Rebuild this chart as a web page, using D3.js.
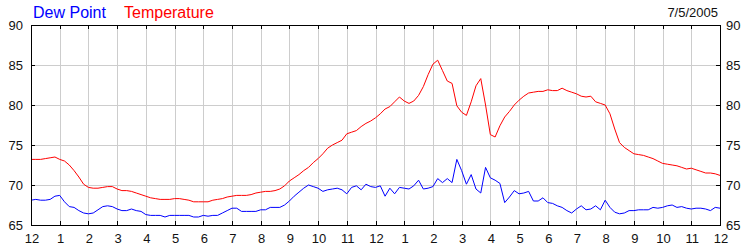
<!DOCTYPE html>
<html>
<head>
<meta charset="utf-8">
<script src="https://cdn.jsdelivr.net/npm/d3@7"></script>
<style>
  body { margin: 0; background: #fff; }
  svg { display: block; font-family: Arial, "Liberation Sans", sans-serif; }
  .grid line { stroke: #cdcdcd; stroke-width: 1; shape-rendering: crispEdges; }
  .tick-mark { stroke: #000; stroke-width: 1; shape-rendering: crispEdges; }
  .lbl { font-size: 13px; fill: #111; }
</style>
</head>
<body>
<script>
// Readings every 10 minutes, midnight to midnight (7/5/2005)
const minutes = d3.range(0, 1441, 10);

// Temperature (F), one row per hour after the first reading
const temperature = [73.2,
  73.2, 73.2, 73.3, 73.4, 73.5, 73.2,
  73.0, 72.5, 71.8, 71.0, 70.1, 69.7,
  69.6, 69.6, 69.7, 69.8, 69.8, 69.5,
  69.3, 69.3, 69.2, 69.0, 68.8, 68.6,
  68.4, 68.3, 68.2, 68.2, 68.2, 68.3,
  68.3, 68.2, 68.1, 67.9, 67.9, 67.9,
  67.9, 68.1, 68.2, 68.3, 68.5, 68.6,
  68.7, 68.7, 68.7, 68.8, 69.0, 69.1,
  69.2, 69.2, 69.3, 69.5, 69.9, 70.5,
  70.9, 71.3, 71.8, 72.2, 72.8, 73.3,
  73.9, 74.6, 75.0, 75.3, 75.6, 76.4,
  76.6, 76.8, 77.3, 77.7, 78.0, 78.4,
  78.9, 79.5, 79.8, 80.4, 81.0, 80.5,
  80.2, 80.5, 81.2, 82.3, 83.8, 85.1,
  85.6, 84.3, 83.0, 82.7, 79.9, 79.1,
  78.7, 80.4, 82.4, 83.3, 80.0, 76.3,
  76.0, 77.4, 78.5, 79.2, 80.0, 80.6,
  81.1, 81.5, 81.6, 81.7, 81.7, 81.9,
  81.8, 81.8, 82.1, 81.8, 81.6, 81.4,
  81.1, 81.0, 81.1, 80.4, 80.2, 80.0,
  78.9, 77.0, 75.3, 74.7, 74.3, 73.9,
  73.8, 73.7, 73.5, 73.3, 73.0, 72.7,
  72.6, 72.5, 72.4, 72.2, 72.0, 72.1,
  71.9, 71.7, 71.5, 71.5, 71.4, 71.2];

// Dew point (F)
const dewPoint = [68.1,
  68.2, 68.1, 68.1, 68.2, 68.6, 68.7,
  67.9, 67.3, 67.2, 66.8, 66.5, 66.4,
  66.5, 66.9, 67.3, 67.4, 67.3, 67.0,
  66.8, 66.8, 67.0, 66.8, 66.7, 66.3,
  66.2, 66.2, 66.2, 66.0, 66.2, 66.2,
  66.2, 66.2, 66.2, 66.0, 66.0, 66.2,
  66.1, 66.2, 66.2, 66.5, 66.8, 67.1,
  67.1, 66.7, 66.7, 66.7, 66.7, 66.9,
  66.9, 67.2, 67.2, 67.2, 67.5, 68.0,
  68.6, 69.1, 69.6, 70.0, 69.8, 69.6,
  69.2, 69.4, 69.5, 69.6, 69.4, 68.9,
  69.7, 69.9, 69.4, 70.1, 69.8, 69.7,
  69.9, 68.6, 69.6, 68.9, 69.7, 69.6,
  69.5, 69.9, 70.6, 69.5, 69.6, 69.8,
  70.8, 70.3, 70.8, 70.3, 73.2, 71.8,
  70.1, 71.3, 69.5, 69.0, 72.2, 70.9,
  70.6, 70.2, 67.8, 68.5, 69.3, 68.9,
  69.0, 69.2, 68.0, 68.0, 68.4, 67.8,
  67.7, 67.4, 67.2, 66.8, 66.5, 67.0,
  67.4, 66.9, 67.0, 67.4, 66.9, 68.1,
  67.2, 66.6, 66.4, 66.5, 66.8, 66.8,
  66.9, 66.9, 66.9, 67.2, 67.1, 67.2,
  67.4, 67.5, 67.2, 67.3, 67.1, 67.0,
  67.1, 67.1, 67.0, 66.8, 67.2, 67.1];

const hourLabels = ["12","1","2","3","4","5","6","7","8","9","10","11",
                    "12","1","2","3","4","5","6","7","8","9","10","11","12"];
const yTicks = [65, 70, 75, 80, 85, 90];
const dateLabel = "7/5/2005";

// Size of the chart
const width = 750, height = 250;
const plot = {left: 31, right: 720, top: 25, bottom: 225};

const svg = d3.select("body").append("svg")
    .attr("width", width)
    .attr("height", height);

const x = d3.scaleLinear().domain([0, 1440]).range([plot.left, plot.right]);
const y = d3.scaleLinear().domain([65, 90]).range([plot.bottom, plot.top]);

const hourTicks = hourLabels.map((d, i) => i * 60);
const px = v => Math.round(v) + 0.5;

// grid lines
const grid = svg.append("g").attr("class", "grid");
grid.selectAll("line.v")
  .data(hourTicks.slice(1, -1))
  .enter().append("line")
  .attr("x1", d => px(x(d))).attr("x2", d => px(x(d)))
  .attr("y1", plot.top).attr("y2", plot.bottom);
grid.selectAll("line.h")
  .data(yTicks.slice(1, -1))
  .enter().append("line")
  .attr("x1", plot.left).attr("x2", plot.right)
  .attr("y1", d => px(y(d))).attr("y2", d => px(y(d)));

// the two series
const line = d3.line()
    .x((d, i) => x(minutes[i]))
    .y(d => y(d));

svg.append("path")
  .datum(dewPoint)
  .attr("fill", "none")
  .attr("stroke", "#0000ff")
  .attr("stroke-width", 1)
  .attr("d", line);

svg.append("path")
  .datum(temperature)
  .attr("fill", "none")
  .attr("stroke", "#ff0000")
  .attr("stroke-width", 1)
  .attr("d", line);

// frame
svg.append("rect")
  .attr("x", px(plot.left)).attr("y", px(plot.top))
  .attr("width", Math.round(plot.right) - Math.round(plot.left))
  .attr("height", Math.round(plot.bottom) - Math.round(plot.top))
  .attr("fill", "none")
  .attr("stroke", "#000")
  .attr("shape-rendering", "crispEdges");

// tick marks pointing inwards
const ticks = svg.append("g");
hourTicks.forEach(t => {
  ticks.append("line").attr("class", "tick-mark")
    .attr("x1", px(x(t))).attr("x2", px(x(t)))
    .attr("y1", plot.top).attr("y2", plot.top + 4);
  ticks.append("line").attr("class", "tick-mark")
    .attr("x1", px(x(t))).attr("x2", px(x(t)))
    .attr("y1", plot.bottom).attr("y2", plot.bottom - 4);
});
yTicks.forEach(v => {
  ticks.append("line").attr("class", "tick-mark")
    .attr("x1", plot.left).attr("x2", plot.left + 4)
    .attr("y1", px(y(v))).attr("y2", px(y(v)));
  ticks.append("line").attr("class", "tick-mark")
    .attr("x1", plot.right).attr("x2", plot.right - 4)
    .attr("y1", px(y(v))).attr("y2", px(y(v)));
});

// axis labels
svg.selectAll("text.xl")
  .data(hourLabels)
  .enter().append("text")
  .attr("class", "lbl")
  .attr("x", (d, i) => x(hourTicks[i]) + 1)
  .attr("y", 243)
  .attr("text-anchor", "middle")
  .text(d => d);

svg.selectAll("text.yl")
  .data(yTicks)
  .enter().append("text")
  .attr("class", "lbl")
  .attr("x", 23)
  .attr("y", d => y(d) + 5)
  .attr("text-anchor", "end")
  .text(d => d);

svg.selectAll("text.yr")
  .data(yTicks)
  .enter().append("text")
  .attr("class", "lbl")
  .attr("x", 726)
  .attr("y", d => y(d) + 5)
  .attr("text-anchor", "start")
  .text(d => d);

// legend and date
svg.append("text")
  .attr("x", 33).attr("y", 18)
  .attr("font-size", 16).attr("fill", "#0000ff")
  .text("Dew Point");
svg.append("text")
  .attr("x", 124).attr("y", 18)
  .attr("font-size", 16).attr("fill", "#ff0000")
  .text("Temperature");
svg.append("text")
  .attr("class", "lbl")
  .attr("x", 718).attr("y", 17)
  .attr("text-anchor", "end")
  .text(dateLabel);
</script>
</body>
</html>
